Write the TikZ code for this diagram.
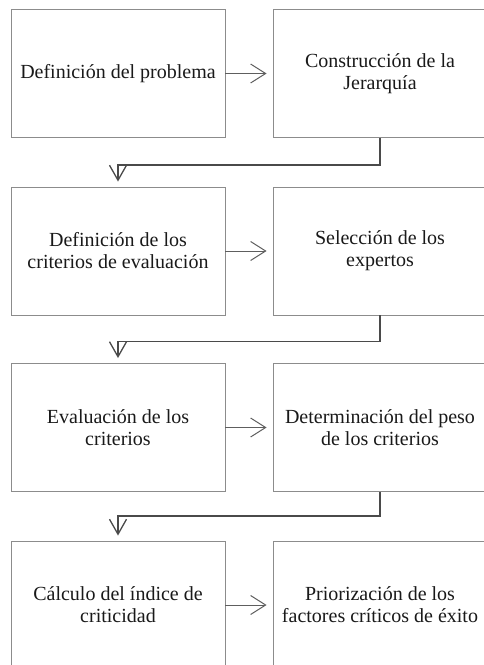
\documentclass[tikz,border=0pt]{standalone}
\usepackage{fontspec}
\setmainfont{Liberation Serif}
\usetikzlibrary{arrows.meta}
\definecolor{boxgray}{HTML}{8C8C8C}
\definecolor{arrgray}{HTML}{5E5E5E}
\definecolor{linegray}{HTML}{4A4A4A}
\begin{document}
\begin{tikzpicture}[x=1pt,y=-1pt,
  box/.style={draw=boxgray, line width=0.9pt, minimum width=214pt, minimum height=128pt,
    align=center, font=\fontsize{20}{22}\selectfont, inner sep=0pt, text=black!90},
  flow/.style={draw=arrgray, line width=1pt, -{Straight Barb[length=15pt,width=19pt]}, shorten >=6pt},
  elbow/.style={draw=linegray, line width=1.3pt, -{Straight Barb[length=15pt,width=17pt]}, shorten >=5pt}]
\useasboundingbox (0,0) rectangle (483,665);
\node[box] (b1) at (118,73.5) {Definición del problema};
\node[box] (b2) at (380,73.5) {Construcción de la\\Jerarquía};
\node[box] (b3) at (118,251) {Definición de los\\criterios de evaluación};
\node[box] (b4) at (380,251) {Selección de los\\expertos};
\node[box] (b5) at (118,427.5) {Evaluación de los\\criterios};
\node[box] (b6) at (380,427.5) {Determinación del peso\\de los criterios};
\node[box] (b7) at (118,605) {Cálculo del índice de\\criticidad};
\node[box] (b8) at (380,605) {Priorización de los\\factores críticos de éxito};
\draw[flow] (b1) -- (b2);
\draw[flow] (b3) -- (b4);
\draw[flow] (b5) -- (b6);
\draw[flow] (b7) -- (b8);
\draw[elbow] (b2.south) -- ++(0,27) -| (b3.north);
\draw[elbow] (b4.south) -- ++(0,26) -| (b5.north);
\draw[elbow] (b6.south) -- ++(0,24) -| (b7.north);
\end{tikzpicture}
\end{document}
